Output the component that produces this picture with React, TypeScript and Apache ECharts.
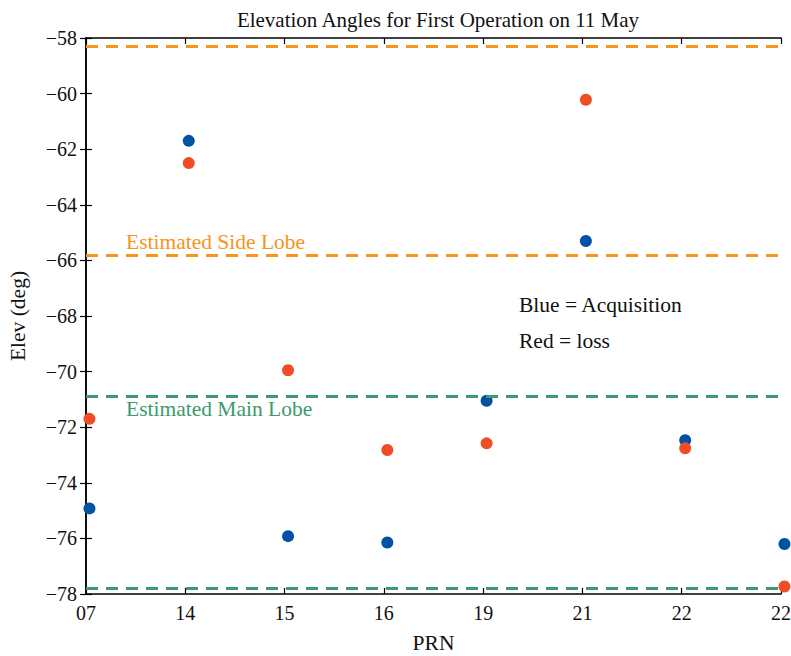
import React, { useEffect, useRef } from "react";
import * as echarts from "echarts";

const prnLabels = ["07", "14", "15", "16", "19", "21", "22", "22"];
const acquisition = [-74.92, -61.7, -75.92, -76.15, -71.05, -65.3, -72.47, -76.2];
const loss = [-71.7, -62.5, -69.95, -72.82, -72.58, -60.22, -72.76, -77.73];
const sideLobe = [-58.3, -65.8];
const mainLobe = [-70.88, -77.81];
const yTicks = { min: -78, max: -58, step: 2 };

const FONT = "'Liberation Serif', 'Times New Roman', serif";
const BLUE = "#0052A5";
const RED = "#F04C25";
const ORANGE = "#F7941D";
const GREEN = "#3C9A6C";
const OFFSET = 0.035;

export default function App() {
  const ref = useRef<HTMLDivElement>(null);
  useEffect(() => {
    if (!ref.current) return;
    const chart = echarts.init(ref.current, null, { renderer: "svg" });
    const minus = (v: number) => String(v).replace("-", "\u2212");
    const dashLine = (vals: number[], color: string) => ({
      silent: true,
      symbol: "none",
      label: { show: false },
      lineStyle: { color, type: [12, 8], width: 3, opacity: 1 },
      emphasis: { disabled: true },
      data: vals.map((v) => ({ yAxis: v })),
    });
    const tickText = { fontFamily: FONT, fontSize: 20, color: "#111" };
    const nameText = { fontFamily: FONT, fontSize: 21.5, color: "#111" };
    const annFont = `21.5px ${FONT}`;
    chart.setOption({
      animation: false,
      backgroundColor: "#fff",
      title: {
        text: "Elevation Angles for First Operation on 11 May",
        left: 433,
        textAlign: "center",
        top: 4,
        textStyle: { fontFamily: FONT, fontSize: 21, color: "#111", fontWeight: "normal" },
      },
      grid: { left: 86, right: 10, top: 38, bottom: 62, outerBoundsMode: "none", containLabel: false },
      xAxis: [
        {
          type: "value",
          min: 0,
          max: 7,
          interval: 1,
          name: "PRN",
          nameLocation: "middle",
          nameGap: 38,
          nameTextStyle: nameText,
          axisLine: { lineStyle: { color: "#000", width: 1.5 } },
          axisTick: { inside: true, length: 6, lineStyle: { color: "#000", width: 1.2 } },
          axisLabel: {
            ...tickText,
            margin: 9,
            formatter: (v: number) => prnLabels[Math.round(v)] ?? "",
          },
          splitLine: { show: false },
        },
        {
          type: "value",
          position: "top",
          min: 0,
          max: 7,
          interval: 1,
          axisLine: { show: true, lineStyle: { color: "#000", width: 1.5 } },
          axisTick: { show: true, inside: true, length: 6, lineStyle: { color: "#000", width: 1.2 } },
          axisLabel: { show: false },
          splitLine: { show: false },
        },
      ],
      yAxis: [
        {
          type: "value",
          min: yTicks.min,
          max: yTicks.max,
          interval: yTicks.step,
          name: "Elev (deg)",
          nameLocation: "middle",
          nameGap: 57,
          nameTextStyle: nameText,
          axisLine: { show: true, lineStyle: { color: "#000", width: 1.5 } },
          axisTick: { show: true, inside: true, length: 6, lineStyle: { color: "#000", width: 1.2 } },
          axisLabel: { ...tickText, margin: 9, padding: [4, 0, 0, 0], formatter: minus },
          splitLine: { show: false },
        },
        {
          type: "value",
          position: "right",
          min: yTicks.min,
          max: yTicks.max,
          interval: yTicks.step,
          axisLine: { show: true, lineStyle: { color: "#000", width: 1.5 } },
          axisTick: { show: true, inside: true, length: 6, lineStyle: { color: "#000", width: 1.2 } },
          axisLabel: { show: false },
          splitLine: { show: false },
        },
      ],
      series: [
        {
          type: "scatter",
          symbolSize: 12,
          clip: false,
          itemStyle: { color: BLUE, opacity: 1 },
          data: acquisition.map((v, i) => [i + OFFSET, v]),
          markLine: dashLine(sideLobe, ORANGE),
          z: 3,
        },
        {
          type: "scatter",
          symbolSize: 12,
          clip: false,
          itemStyle: { color: RED, opacity: 1 },
          data: loss.map((v, i) => [i + OFFSET, v]),
          markLine: dashLine(mainLobe, GREEN),
          z: 3,
        },
      ],
      graphic: [
        { type: "text", left: 126, top: 231, style: { text: "Estimated Side Lobe", fill: ORANGE, font: annFont } },
        { type: "text", left: 126, top: 398, style: { text: "Estimated Main Lobe", fill: GREEN, font: annFont } },
        { type: "text", left: 519, top: 294, style: { text: "Blue = Acquisition", fill: "#111", font: annFont } },
        { type: "text", left: 519, top: 330, style: { text: "Red = loss", fill: "#111", font: annFont } },
      ],
    });
    return () => chart.dispose();
  }, []);
  return <div ref={ref} style={{ position: "fixed", left: 0, top: 0, width: 791, height: 656 }} />;
}
